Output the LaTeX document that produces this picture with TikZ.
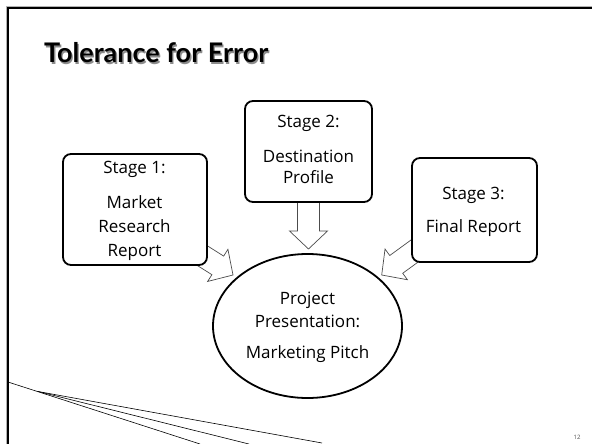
\documentclass[tikz,border=0pt]{standalone}
\usepackage{fontspec}
\setmainfont{Open Sans}
\newfontfamily\titlefont{Lato}
\usetikzlibrary{calc,shapes.geometric}
\tikzset{
  stagebox/.style={draw=black, line width=1.8pt, rounded corners=8pt, fill=white, inner sep=0pt},
  goalell/.style={draw=black, line width=1.8pt, ellipse, fill=white, inner sep=0pt},
  txt/.style={anchor=base, inner sep=0pt, font=\fontsize{17}{20}\selectfont},
  blockarr/.style={draw=black!70, line width=0.7pt, fill=white, line join=miter},
  fanline/.style={draw=black, line width=0.6pt},
}
\newcommand\blockarrow[2]{%
  \draw[blockarr]
    ($(#1)!11pt!90:(#2)$) -- ($($(#2)!18pt!(#1)$)!11pt!-90:(#1)$)
    -- ($($(#2)!18pt!(#1)$)!19pt!-90:(#1)$) -- (#2)
    -- ($($(#2)!18pt!(#1)$)!19pt!90:(#1)$)
    -- ($($(#2)!18pt!(#1)$)!11pt!90:(#1)$)
    -- ($(#1)!11pt!-90:(#2)$) -- cycle;}
\begin{document}
\begin{tikzpicture}[x=1pt,y=-1pt]
\useasboundingbox (0,0) rectangle (592,444);
% frame
\draw[gray!60, line width=1pt] (6.5,444) -- (6.5,6.5) -- (592,6.5);
\draw[black, line width=2.4pt, line join=miter] (8,444) -- (8,8) -- (592,8);
% fan lines
\coordinate (f0) at (8,382);
\coordinate (fc) at (38,391.5);
\coordinate (e1) at (200,444);
\coordinate (e2) at (249,444);
\coordinate (e3) at (322,443);
\draw[fanline] (f0) -- (e1);
\draw[fanline] (fc) -- (e2);
\draw[fanline] (fc) -- (e3);
% title
\node[anchor=base west, inner sep=0pt, text=black!45, font=\titlefont\bfseries\fontsize{27}{30}\selectfont] (titleshadow) at (45.3,64.3) {Tolerance for Error};
\node[anchor=base west, inner sep=0pt, font=\titlefont\bfseries\fontsize{27}{30}\selectfont] (title) at (44,63) {Tolerance for Error};
% arrow coordinates
\coordinate (t1) at (195,251);
\coordinate (p1) at (233,275);
\coordinate (t2) at (308.5,190);
\coordinate (p2) at (308.5,249);
\coordinate (t3) at (418,248.5);
\coordinate (p3) at (381.7,275);
\blockarrow{t1}{p1}
\blockarrow{t2}{p2}
\blockarrow{t3}{p3}
% boxes
\node[stagebox, minimum width=144pt, minimum height=111pt] (s1) at (135,209.5) {};
\node[stagebox, minimum width=127pt, minimum height=101pt] (s2) at (308.5,151.5) {};
\node[stagebox, minimum width=125pt, minimum height=104pt] (s3) at (474.5,210) {};
\node[goalell, minimum width=189pt, minimum height=144pt] (goal) at (307.5,326) {};
% texts
\node[txt] (s1a) at (134.5,173) {Stage 1:};
\node[txt] (s1b) at (134.5,208) {Market};
\node[txt] (s1c) at (134.5,232) {Research};
\node[txt] (s1d) at (134.5,256) {Report};
\node[txt] (s2a) at (308.5,127.5) {Stage 2:};
\node[txt] (s2b) at (308.5,162) {Destination};
\node[txt] (s2c) at (308.5,183) {Profile};
\node[txt] (s3a) at (473.5,199) {Stage 3:};
\node[txt] (s3b) at (473.5,232) {Final Report};
\node[txt] (ga) at (307.5,304) {Project};
\node[txt] (gb) at (307.5,327) {Presentation:};
\node[txt] (gc) at (307.5,358) {Marketing Pitch};
% page number
\node[anchor=base, inner sep=0pt, text=black!70, font=\fontsize{6}{7}\selectfont] (pg) at (577,439) {12};
\end{tikzpicture}
\end{document}
